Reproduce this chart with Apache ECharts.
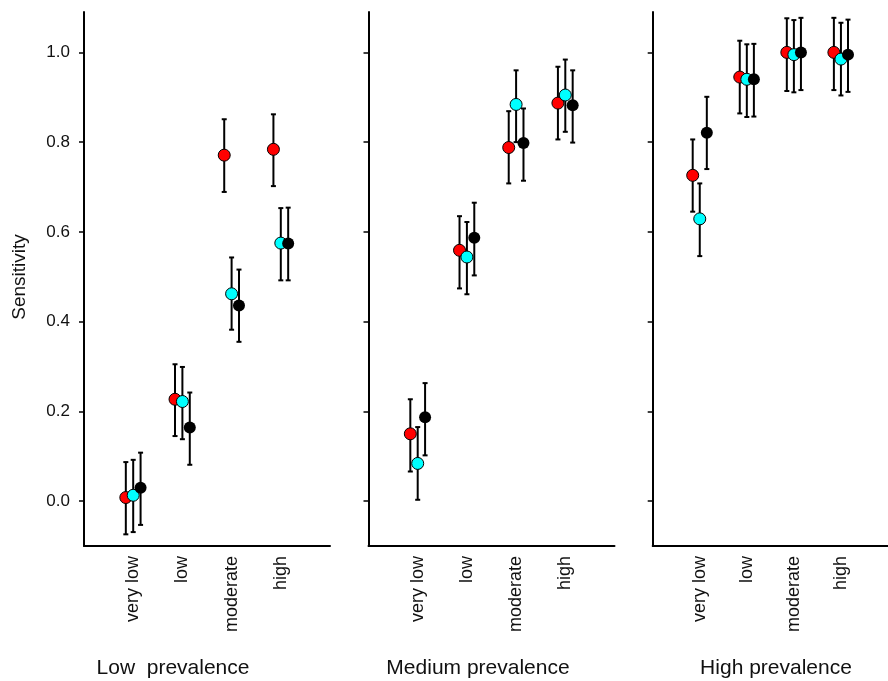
<!DOCTYPE html>
<html>
<head>
<meta charset="utf-8">
<script src="https://cdn.jsdelivr.net/npm/echarts@6/dist/echarts.min.js"></script>
<style>
  html, body { margin: 0; padding: 0; background: #fff; }
  #chart { width: 888px; height: 681px; }
</style>
</head>
<body>
<div id="chart"></div>
<script>
const categories = ['very low', 'low', 'moderate', 'high']
const panelTitles = ['Low  prevalence', 'Medium prevalence', 'High prevalence']
const yTicks = [0, 0.2, 0.4, 0.6, 0.8, 1.0]

// one row per panel, one value per category
const redMean = [
  [0.008, 0.227, 0.771, 0.784],
  [0.150, 0.559, 0.788, 0.887],
  [0.726, 0.945, 1.000, 1.000]
]
const redLower = [
  [-0.074, 0.145, 0.689, 0.702],
  [0.066, 0.474, 0.708, 0.806],
  [0.645, 0.864, 0.914, 0.916]
]
const redUpper = [
  [0.087, 0.305, 0.851, 0.862],
  [0.227, 0.635, 0.869, 0.968],
  [0.806, 1.026, 1.076, 1.077]
]
const cyanMean = [
  [0.013, 0.222, 0.462, 0.575],
  [0.084, 0.544, 0.884, 0.905],
  [0.629, 0.940, 0.995, 0.985]
]
const cyanLower = [
  [-0.069, 0.138, 0.382, 0.492],
  [0.003, 0.461, 0.800, 0.823],
  [0.546, 0.856, 0.911, 0.904]
]
const cyanUpper = [
  [0.092, 0.299, 0.543, 0.653],
  [0.165, 0.622, 0.960, 0.984],
  [0.708, 1.018, 1.072, 1.066]
]
const blackMean = [
  [0.030, 0.164, 0.436, 0.574],
  [0.187, 0.587, 0.798, 0.882],
  [0.821, 0.940, 1.000, 0.995]
]
const blackLower = [
  [-0.053, 0.081, 0.355, 0.492],
  [0.102, 0.503, 0.714, 0.799],
  [0.740, 0.857, 0.916, 0.912]
]
const blackUpper = [
  [0.108, 0.242, 0.516, 0.654],
  [0.263, 0.665, 0.875, 0.960],
  [0.901, 1.019, 1.077, 1.073]
]

const groups = [
  { mean: redMean, lower: redLower, upper: redUpper, color: '#ff0000', border: 1, offset: -0.15 },
  { mean: cyanMean, lower: cyanLower, upper: cyanUpper, color: '#00ffff', border: 1, offset: 0 },
  { mean: blackMean, lower: blackLower, upper: blackUpper, color: '#000000', border: 0, offset: 0.15 }
]

const FONT = 'Liberation Sans, Arial, sans-serif'
const panelLeft = [84, 368.5, 652.7]
const panelWidth = 246
const titleX = [173, 478, 776]

const grids = [], xAxes = [], yAxes = [], series = [], graphics = []

const renderErrorBar = (params, api) => {
  const x = api.value(0)
  const top = api.coord([x, api.value(2)])
  const bot = api.coord([x, api.value(1)])
  const cap = 2.5
  const style = { stroke: '#000', lineWidth: 2 }
  return {
    type: 'group',
    children: [
      { type: 'line', shape: { x1: top[0], y1: top[1], x2: bot[0], y2: bot[1] }, style },
      { type: 'line', shape: { x1: top[0] - cap, y1: top[1], x2: top[0] + cap, y2: top[1] }, style },
      { type: 'line', shape: { x1: bot[0] - cap, y1: bot[1], x2: bot[0] + cap, y2: bot[1] }, style }
    ]
  }
}

panelTitles.forEach((title, p) => {
  grids.push({ left: panelLeft[p], width: panelWidth, top: 12, height: 534 })
  xAxes.push({
    type: 'value', gridIndex: p, min: 0, max: 5,
    axisLine: { onZero: false, lineStyle: { color: '#000', width: 2 } },
    axisTick: { show: false },
    splitLine: { show: false },
    axisLabel: {
      customValues: categories.map((c, i) => i + 1),
      formatter: v => categories[v - 1] || '',
      rotate: 90, margin: 10, fontFamily: FONT, fontSize: 18, color: '#111'
    }
  })
  yAxes.push({
    type: 'value', gridIndex: p, min: -0.1, max: 1.09,
    axisLine: { show: true, onZero: false, lineStyle: { color: '#000', width: 2 } },
    axisTick: { show: true, customValues: yTicks, length: 5, lineStyle: { color: '#000', width: 1.5 } },
    splitLine: { show: false },
    axisLabel: {
      show: p === 0, customValues: yTicks,
      formatter: v => v.toFixed(1),
      margin: 14, fontFamily: FONT, fontSize: 17, color: '#111'
    }
  })

  groups.forEach(g => {
    series.push({
      type: 'custom', xAxisIndex: p, yAxisIndex: p, z: 2,
      renderItem: renderErrorBar,
      data: categories.map((c, i) => [i + 1 + g.offset, g.lower[p][i], g.upper[p][i]])
    })
  })
  groups.forEach(g => {
    series.push({
      type: 'scatter', xAxisIndex: p, yAxisIndex: p, z: 3,
      symbolSize: 12,
      itemStyle: { color: g.color, borderColor: '#000', borderWidth: g.border, opacity: 1 },
      data: categories.map((c, i) => [i + 1 + g.offset, g.mean[p][i]])
    })
  })

  graphics.push({
    type: 'text', x: titleX[p], y: 668,
    style: { text: title, font: '21px ' + FONT, fill: '#111', textAlign: 'center', textVerticalAlign: 'middle' }
  })
})

graphics.push({
  type: 'text', x: 20, y: 277, rotation: Math.PI / 2,
  style: { text: 'Sensitivity', font: '19px ' + FONT, fill: '#111', textAlign: 'center', textVerticalAlign: 'middle' }
})

const chart = echarts.init(document.getElementById('chart'), null, { renderer: 'canvas' })
chart.setOption({
  animation: false,
  grid: grids,
  xAxis: xAxes,
  yAxis: yAxes,
  series,
  graphic: graphics
})
</script>
</body>
</html>
